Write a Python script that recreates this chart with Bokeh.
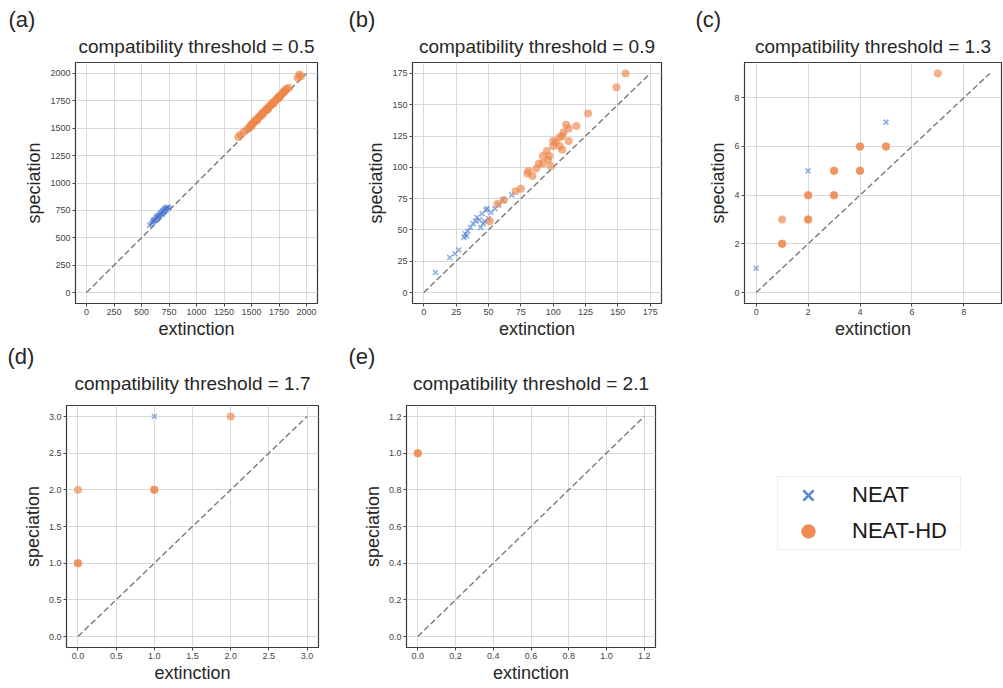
from bokeh.plotting import figure
from bokeh.layouts import row, column
from bokeh.models import (Range1d, FixedTicker, PrintfTickFormatter, Title,
                          Legend, LegendItem)
from bokeh.embed import file_html
from bokeh.resources import INLINE

FONT = "Liberation Sans"
BLUE = "#4878d0"
ORANGE = "#ee854a"

letters = ["(a)", "(b)", "(c)", "(d)", "(e)"]
thresholds = ["0.5", "0.9", "1.3", "1.7", "2.1"]

# (a) threshold 0.5
a_neat_ext = [575, 590, 600, 605, 615, 620, 630, 635, 640, 650, 655, 660, 670, 675, 680,
              690, 695, 700, 710, 715, 720, 730, 740, 750, 610, 645, 665, 685, 705, 725]
a_neat_spec = [615, 625, 640, 650, 655, 665, 670, 685, 690, 695, 705, 700, 715, 720, 730,
               735, 745, 750, 760, 765, 770, 775, 780, 770, 660, 680, 700, 715, 740, 755]
a_hd_ext = [1380, 1400, 1430, 1460, 1480, 1490, 1500, 1510, 1520, 1530, 1540, 1550, 1560,
            1570, 1580, 1590, 1600, 1610, 1620, 1630, 1640, 1650, 1660, 1670, 1680, 1690,
            1700, 1710, 1720, 1730, 1740, 1750, 1760, 1770, 1780, 1790, 1800, 1810, 1820,
            1840, 1500, 1550, 1600, 1650, 1700, 1750, 1920, 1935, 1950]
a_hd_spec = [1420, 1440, 1465, 1490, 1505, 1520, 1535, 1540, 1550, 1565, 1575, 1580, 1595,
             1605, 1610, 1625, 1640, 1645, 1655, 1665, 1680, 1685, 1695, 1710, 1715, 1725,
             1740, 1745, 1755, 1770, 1775, 1790, 1795, 1805, 1820, 1830, 1835, 1850, 1860,
             1870, 1520, 1570, 1625, 1670, 1725, 1775, 1960, 1990, 1975]
a_ticks = [0, 250, 500, 750, 1000, 1250, 1500, 1750, 2000]

# (b) threshold 0.9
b_neat_ext = [9, 20, 24, 27, 31, 32, 34, 36, 38, 40, 41, 43, 44, 45, 46, 47, 48, 49, 50,
              52, 55, 58, 61, 68, 33]
b_neat_spec = [16, 28, 31, 34, 44, 47, 49, 52, 55, 57, 60, 58, 52, 63, 55, 57, 66, 67, 59,
               64, 67, 70, 74, 78, 45]
b_hd_ext = [51, 57, 62, 71, 75, 80, 81, 84, 87, 89, 92, 92, 95, 96, 97, 98, 100, 100, 102,
            105, 105, 107, 107, 108, 110, 112, 112, 118, 127, 149, 156]
b_hd_spec = [57, 71, 74, 81, 83, 95, 97, 93, 99, 103, 109, 103, 113, 106, 109, 101, 117,
             121, 120, 124, 117, 125, 114, 128, 134, 131, 121, 133, 143, 164, 175]
b_ticks = [0, 25, 50, 75, 100, 125, 150, 175]

# (c) threshold 1.3
c_neat_ext = [0, 2, 5]
c_neat_spec = [1, 5, 7]
c_hd_ext = [1, 1, 1, 2, 2, 2, 2, 3, 3, 3, 3, 4, 4, 4, 4, 5, 5, 7]
c_hd_spec = [2, 2, 3, 3, 3, 4, 4, 4, 4, 5, 5, 5, 5, 6, 6, 6, 6, 9]
c_ticks = [0, 2, 4, 6, 8]

# (d) threshold 1.7
d_neat_ext = [1]
d_neat_spec = [3]
d_hd_ext = [0, 0, 0, 1, 1, 2]
d_hd_spec = [1, 1, 2, 2, 2, 3]
d_ticks = [0.0, 0.5, 1.0, 1.5, 2.0, 2.5, 3.0]

# (e) threshold 2.1
e_neat_ext = []
e_neat_spec = []
e_hd_ext = [0, 0]
e_hd_spec = [1, 1]
e_ticks = [0.0, 0.2, 0.4, 0.6, 0.8, 1.0, 1.2]

# upper end of the y = x reference line in each panel
diag_max = [2000, 175, 9, 3, 1.2]

panels = [
    (a_neat_ext, a_neat_spec, a_hd_ext, a_hd_spec, a_ticks, None),
    (b_neat_ext, b_neat_spec, b_hd_ext, b_hd_spec, b_ticks, None),
    (c_neat_ext, c_neat_spec, c_hd_ext, c_hd_spec, c_ticks, None),
    (d_neat_ext, d_neat_spec, d_hd_ext, d_hd_spec, d_ticks, "%.1f"),
    (e_neat_ext, e_neat_spec, e_hd_ext, e_hd_spec, e_ticks, "%.1f"),
]

# borders and frame sizes:
# (left, frame_w, right, top, frame_h, bottom, letter_offset,
#  title_standoff, letter_standoff)
geometry = [
    (75, 242, 23, 62, 241, 38, -67, 11, -7),
    (72, 249, 11, 62, 241, 38, -64, 11, -7),
    (72, 257, 2, 62, 241, 38, -49, 11, -7),
    (66, 252, 22, 64, 242, 41, -59, 23, -19),
    (66, 249, 17, 64, 242, 41, -58, 23, -19),
]


def make_panel(i):
    neat_x, neat_y, hd_x, hd_y, ticks, fmt = panels[i]
    left, fw, right, top, fh, bottom, loff, tstand, lstand = geometry[i]
    m = diag_max[i]
    lo, hi = -0.05 * m, 1.05 * m
    p = figure(width=left + fw + right, height=top + fh + bottom,
               frame_width=fw, frame_height=fh,
               min_border_left=left, min_border_right=right,
               min_border_top=top, min_border_bottom=bottom,
               x_range=Range1d(lo, hi), y_range=Range1d(lo, hi),
               output_backend="svg", toolbar_location=None,
               title=letters[i])
    # panel letter sits outermost, the threshold title just above the frame
    p.title.align = "left"
    p.title.offset = loff
    p.title.text_font = FONT
    p.title.text_font_size = "22px"
    p.title.text_font_style = "normal"
    p.title.text_color = "#262626"
    p.title.standoff = lstand
    p.add_layout(Title(text="compatibility threshold = " + thresholds[i],
                       align="center", text_font=FONT, text_font_size="19px",
                       text_font_style="normal", text_color="#262626",
                       standoff=tstand), "above")

    p.outline_line_color = "#3a3a3a"
    p.outline_line_width = 1.2
    p.background_fill_color = "white"
    p.border_fill_color = "white"

    for ax in (p.xaxis, p.yaxis):
        ax.ticker = FixedTicker(ticks=ticks)
        ax.axis_line_color = None
        ax.major_tick_line_color = "#444444"
        ax.major_tick_out = 3
        ax.major_tick_in = 0
        ax.minor_tick_line_color = None
        ax.major_label_text_font = FONT
        ax.major_label_text_font_size = "9px"
        ax.major_label_text_color = "#444444"
        ax.major_label_standoff = 2
        ax.axis_label_text_font = FONT
        ax.axis_label_text_font_size = "18px"
        ax.axis_label_text_font_style = "normal"
        ax.axis_label_text_color = "#262626"
        if fmt:
            ax.formatter = PrintfTickFormatter(format=fmt)
    p.xaxis.axis_label_standoff = 1
    p.yaxis.axis_label_standoff = 3
    p.xaxis.axis_label = "extinction"
    p.yaxis.axis_label = "speciation"

    p.grid.ticker = FixedTicker(ticks=ticks)
    p.grid.grid_line_color = "#d9d9d9"
    p.grid.grid_line_width = 1

    p.line(x=[0, m], y=[0, m], line_color="#7a7a7a", line_width=1.4,
           line_dash="6 3")
    p.scatter(x=neat_x, y=neat_y, marker="x", size=7, line_color=BLUE,
              line_width=1.6, line_alpha=0.6)
    p.scatter(x=hd_x, y=hd_y, marker="circle", size=8, fill_color=ORANGE,
              fill_alpha=0.65, line_color=None)
    return p


figs = [make_panel(i) for i in range(5)]

# legend-only panel; its renderers hold a single undefined (NaN) point so
# nothing is plotted, only the legend swatches
nan = float("nan")
lg = figure(width=331, height=347, frame_width=331, frame_height=347,
            min_border=0, x_axis_location=None, y_axis_location=None,
            x_range=Range1d(0, 1), y_range=Range1d(0, 1),
            output_backend="svg", toolbar_location=None)
lg.outline_line_color = None
lg.grid.grid_line_color = None
r_neat = lg.scatter(x=[nan], y=[nan], marker="x", size=18, line_color=BLUE,
                    line_width=2.6, line_alpha=0.9)
r_hd = lg.scatter(x=[nan], y=[nan], marker="circle", size=18,
                  fill_color=ORANGE, fill_alpha=0.95, line_color=None)
legend = Legend(items=[LegendItem(label="NEAT", renderers=[r_neat]),
                       LegendItem(label="NEAT-HD", renderers=[r_hd])],
                location=(105, 254), label_text_font=FONT,
                label_text_font_size="22px", label_text_color="#1a1a1a",
                glyph_width=60, glyph_height=36, spacing=0, padding=0,
                label_standoff=14, label_width=108,
                border_line_color="#dddddd", border_line_width=1,
                background_fill_color="white", margin=0)
lg.add_layout(legend, "center")

layout = column(row(figs[0], figs[1], figs[2]), row(figs[3], figs[4], lg))
open("out.html", "w").write(file_html(layout, INLINE))
